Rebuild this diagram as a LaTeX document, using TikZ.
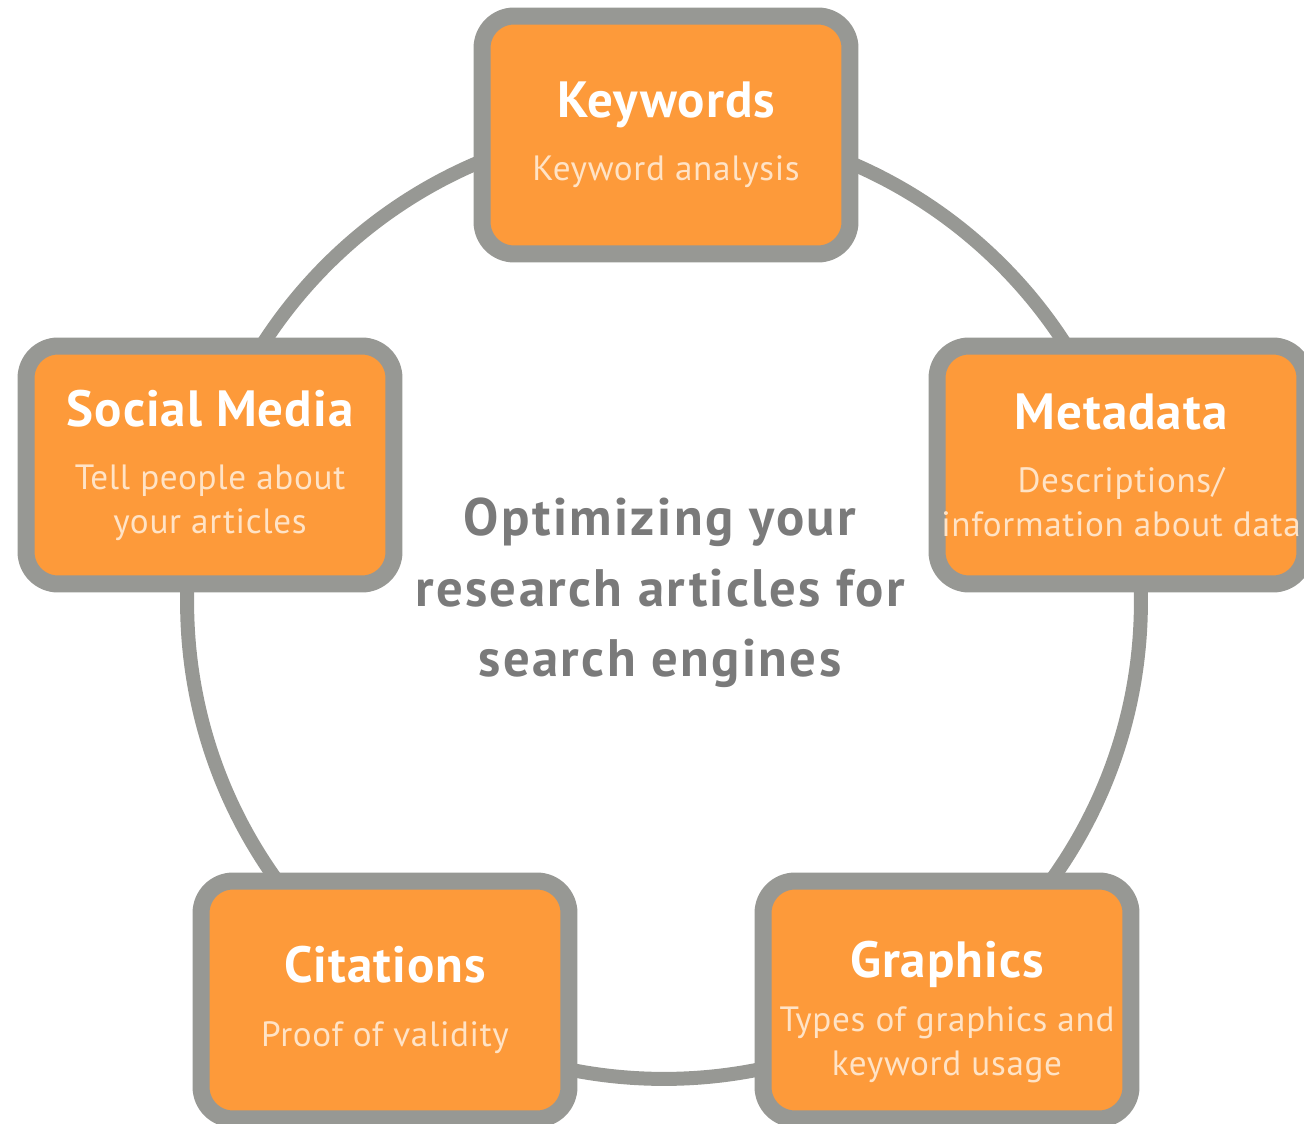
\documentclass[tikz,border=0pt]{standalone}
\usepackage{fontspec}
\setmainfont{PT Sans}

\definecolor{boxorange}{HTML}{FD9A3A}
\definecolor{ringgray}{HTML}{979894}
\definecolor{textgray}{HTML}{7A7A7A}
\definecolor{subpeach}{HTML}{FFE3C6}

\tikzset{
  topic/.style={draw=ringgray, line width=0.34cm, fill=boxorange,
    rounded corners=0.64cm, minimum width=7.36cm, minimum height=4.76cm,
    align=center, text=subpeach, inner sep=0pt,
    font=\fontsize{20}{25}\selectfont\addfontfeatures{LetterSpace=2}},
  goal/.style={text=textgray, align=center,
    font=\fontsize{30}{40}\selectfont\bfseries\addfontfeatures{LetterSpace=4.5}},
}
\newcommand{\topichead}[2][11pt]{{\color{white}\fontsize{29}{35}\selectfont\bfseries #2}\\[#1]}

\begin{document}
\begin{tikzpicture}[x=0.02cm, y=-0.02cm]
  \clip (0,0) rectangle (1304,1124);

  %%%%% RING %%%%%
  \draw[ringgray, line width=0.28cm] (664,602) circle (9.54cm);

  %%%%% TOPICS %%%%%
  \node[topic] (keywords) at (666,135) {\topichead{Keywords}Keyword analysis};
  \node[topic] (social) at (210,465) {\topichead{Social Media}Tell people about\\your articles};
  \node[topic] (metadata) at (1121,465) {\topichead{Metadata}Descriptions/\\information about data};
  \node[topic] (citations) at (385,1000) {\topichead{Citations}Proof of validity};
  \node[topic] (graphics) at (947,1000) {\topichead[6pt]{\rule{0pt}{1.2cm}Graphics}Types of graphics and\\keyword usage};

  %%%%% CENTRE %%%%%
  \node[goal] (aim) at (660,593) {Optimizing your\\research articles for\\search engines};
\end{tikzpicture}
\end{document}
